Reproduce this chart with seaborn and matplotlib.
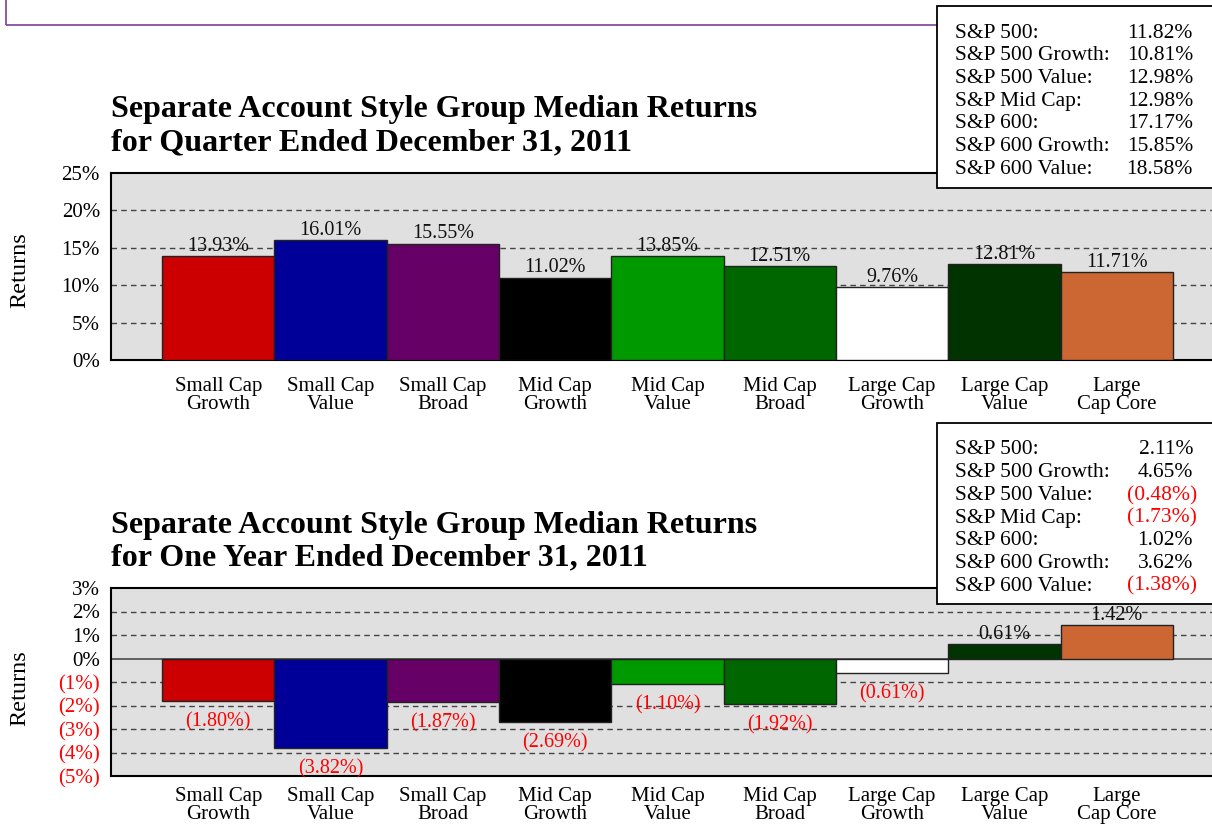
import matplotlib
matplotlib.use("Agg")
import matplotlib.pyplot as plt
import seaborn as sns
from matplotlib.patches import Rectangle

sns.set_theme(style="white")
plt.rcParams["font.family"] = ["Liberation Serif", "DejaVu Serif"]
plt.rcParams["text.color"] = "black"
plt.rcParams["xtick.color"] = "black"
plt.rcParams["ytick.color"] = "black"

categories = ["Small Cap\nGrowth", "Small Cap\nValue", "Small Cap\nBroad",
              "Mid Cap\nGrowth", "Mid Cap\nValue", "Mid Cap\nBroad",
              "Large Cap\nGrowth", "Large Cap\nValue", "Large\nCap Core"]
bar_colors = ["#CC0000", "#000099", "#660066", "#000000", "#009900",
              "#006600", "#FFFFFF", "#003300", "#CC6633"]

quarter_returns = [13.93, 16.01, 15.55, 11.02, 13.85, 12.51, 9.76, 12.81, 11.71]
year_returns = [-1.80, -3.82, -1.87, -2.69, -1.10, -1.92, -0.61, 0.61, 1.42]

index_names = ["S&P 500:", "S&P 500 Growth:", "S&P 500 Value:", "S&P Mid Cap:",
               "S&P 600:", "S&P 600 Growth:", "S&P 600 Value:"]
index_quarter = [11.82, 10.81, 12.98, 12.98, 17.17, 15.85, 18.58]
index_year = [2.11, 4.65, -0.48, -1.73, 1.02, 3.62, -1.38]

quarter_ticks = [0, 5, 10, 15, 20, 25]
year_ticks = [-5, -4, -3, -2, -1, 0, 1, 2, 3]

W, H = 1212, 827
RED = "#FF0000"


def fmt(v):
    return f"{v:.2f}%" if v >= 0 else f"({abs(v):.2f}%)"


def fx(px):
    return px / W


def fy(py):
    return 1 - py / H


fig = plt.figure(figsize=(W / 100, H / 100), dpi=100)

# purple frame at the very top
fig.patches.append(Rectangle((fx(6), fy(25)), 1.2, 0.2, transform=fig.transFigure,
                             fill=False, edgecolor="#7F3F98", linewidth=1.2))


def draw_panel(top_px, bottom_px, values, ticks, title, ylabel_y, xpad):
    ax = fig.add_axes([fx(111), fy(bottom_px), fx(1224) - fx(111),
                       fy(top_px) - fy(bottom_px)])
    ax.set_facecolor("#E0E0E0")
    sns.barplot(x=categories, y=values, hue=categories, palette=bar_colors,
                saturation=1, width=1.0, edgecolor="#222222", linewidth=1,
                legend=False, ax=ax, zorder=3)
    ax.set_xlim(-0.955, 8.955)
    ax.set_ylim(ticks[0], ticks[-1])
    ax.set_yticks(ticks)
    ax.set_yticklabels([f"{t}%" if t >= 0 else f"({abs(t)}%)" for t in ticks],
                       fontsize=15)
    for lbl, t in zip(ax.get_yticklabels(), ticks):
        if t < 0:
            lbl.set_color(RED)
    for t in ticks[1:-1]:
        if t == 0:
            ax.axhline(0, color="#555555", lw=1.3, zorder=2)
        else:
            ax.axhline(t, color="#444444", lw=1, ls=(0, (4, 3)), zorder=1)
    ax.tick_params(axis="x", length=0, pad=xpad, labelsize=15)
    ax.tick_params(axis="y", length=0, pad=8)
    for lbl in ax.get_xticklabels():
        lbl.set_linespacing(0.92)
    for s in ax.spines.values():
        s.set_color("black")
        s.set_linewidth(1.5)
    ax.set_xlabel("")
    ax.set_ylabel("")
    for i, v in enumerate(values):
        if v >= 0:
            ax.annotate(fmt(v), (i, v), xytext=(0, 7), textcoords="offset points",
                        ha="center", va="center", fontsize=14.5, color="#111111",
                        zorder=5)
        else:
            ax.annotate(fmt(v), (i, v), xytext=(0, -15), textcoords="offset points",
                        ha="center", va="center", fontsize=14.5, color=RED,
                        zorder=5)
    fig.text(fx(111), fy(top_px - 63), title[0], fontsize=23, fontweight="bold",
             ha="left", va="center")
    fig.text(fx(111), fy(top_px - 30), title[1], fontsize=23, fontweight="bold",
             ha="left", va="center")
    fig.text(fx(20), fy(ylabel_y), "Returns", rotation=90, fontsize=17.5,
             ha="center", va="center")
    return ax


def draw_box(top_px, bottom_px, values):
    fig.patches.append(Rectangle((fx(937), fy(bottom_px)), 0.3,
                                 fy(top_px) - fy(bottom_px),
                                 transform=fig.transFigure, facecolor="white",
                                 edgecolor="black", linewidth=1.3, zorder=10))
    for k, (name, v) in enumerate(zip(index_names, values)):
        y = fy(top_px + 27 + 22.7 * k)
        fig.text(fx(955), y, name, fontsize=15.5, ha="left", va="center", zorder=11)
        if v >= 0:
            fig.text(fx(1193), y, fmt(v), fontsize=15.5, ha="right", va="center",
                     zorder=11)
        else:
            fig.text(fx(1197), y, fmt(v), fontsize=15.5, ha="right", va="center",
                     color=RED, zorder=11)


draw_panel(173, 360, quarter_returns, quarter_ticks,
           ["Separate Account Style Group Median Returns",
            "for Quarter Ended December 31, 2011"], 270, 12)
draw_panel(588, 776, year_returns, year_ticks,
           ["Separate Account Style Group Median Returns",
            "for One Year Ended December 31, 2011"], 688, 8)
draw_box(6, 188, index_quarter)
draw_box(423, 604, index_year)

fig.savefig("out.png", dpi=100)
